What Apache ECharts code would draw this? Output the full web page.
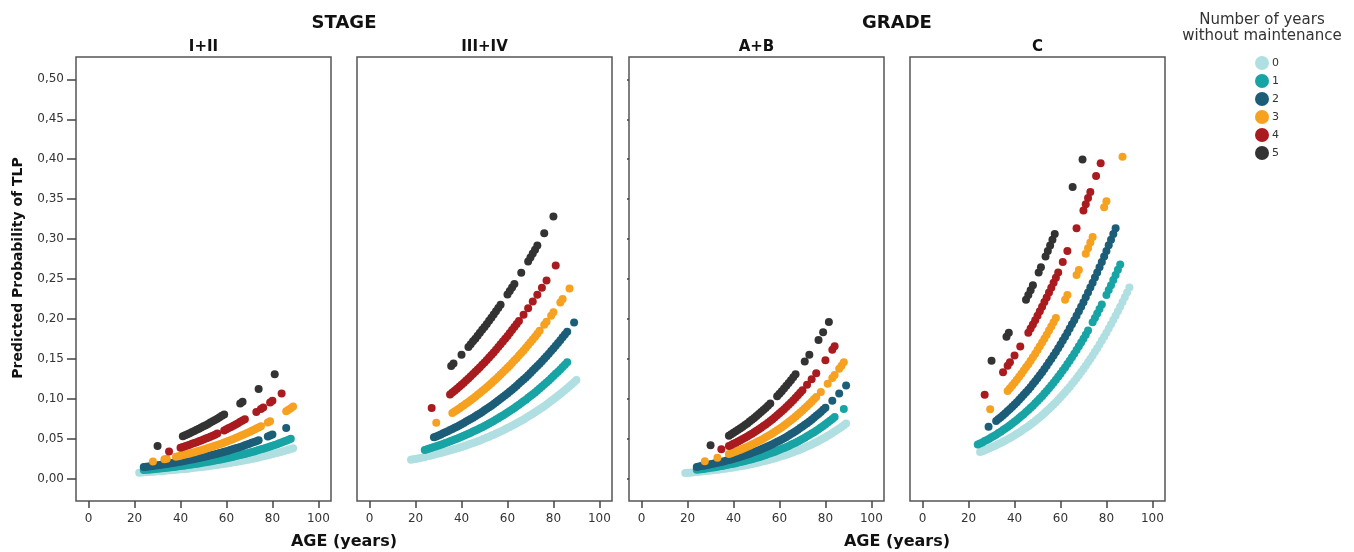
<!DOCTYPE html>
<html>
<head>
<meta charset="utf-8">
<title>Predicted Probability of TLP</title>
<script src="https://cdn.jsdelivr.net/npm/echarts@6/dist/echarts.min.js"></script>
<style>
  html, body { margin: 0; padding: 0; background: #fff; }
  #chart { width: 1354px; height: 552px; }
</style>
</head>
<body>
<div id="chart"></div>
<script>
// legend / series names (number of years without maintenance)
var yearNames = ['0', '1', '2', '3', '4', '5'];
var panelTitles = ['I+II', 'III+IV', 'A+B', 'C'];
var xTicks = [0, 20, 40, 60, 80, 100];
var yTicks = [0, 0.05, 0.1, 0.15, 0.2, 0.25, 0.3, 0.35, 0.4, 0.45, 0.5];

// STAGE I+II : [age, predicted probability]
var stage12_0 = [[22,0.0075],[23,0.0077],[24,0.0079],[25,0.0081],[26,0.0083],[27,0.0085],[28,0.0087],[29,0.0089],[30,0.0091],[31,0.0094],[32,0.0096],[33,0.0099],[34,0.0101],[35,0.0104],[36,0.0106],[37,0.0109],[38,0.0111],[39,0.0114],[40,0.0117],[41,0.0120],[42,0.0122],[43,0.0125],[44,0.0128],[45,0.0132],[46,0.0135],[47,0.0139],[48,0.0142],[49,0.0146],[50,0.0149],[51,0.0153],[52,0.0156],[53,0.0160],[54,0.0164],[55,0.0168],[56,0.0172],[57,0.0176],[58,0.0180],[59,0.0185],[60,0.0189],[61,0.0194],[62,0.0199],[63,0.0204],[64,0.0209],[65,0.0214],[66,0.0219],[67,0.0225],[68,0.0230],[69,0.0236],[70,0.0241],[71,0.0247],[72,0.0253],[73,0.0260],[74,0.0266],[75,0.0273],[76,0.0279],[77,0.0286],[78,0.0292],[79,0.0300],[80,0.0307],[81,0.0315],[82,0.0322],[83,0.0330],[84,0.0337],[85,0.0346],[86,0.0354],[87,0.0363],[88,0.0371],[89,0.0380]];
var stage12_1 = [[24,0.0107],[25,0.0110],[26,0.0112],[27,0.0115],[28,0.0118],[29,0.0121],[30,0.0124],[31,0.0127],[32,0.0130],[33,0.0133],[34,0.0136],[35,0.0140],[36,0.0143],[37,0.0147],[38,0.0150],[39,0.0154],[40,0.0158],[41,0.0162],[42,0.0166],[43,0.0170],[44,0.0174],[45,0.0178],[46,0.0182],[47,0.0187],[48,0.0191],[49,0.0196],[50,0.0201],[51,0.0206],[52,0.0211],[53,0.0216],[54,0.0221],[55,0.0227],[56,0.0232],[57,0.0238],[58,0.0244],[59,0.0250],[60,0.0256],[61,0.0262],[62,0.0268],[63,0.0275],[64,0.0282],[65,0.0289],[66,0.0296],[67,0.0303],[68,0.0310],[69,0.0318],[70,0.0325],[71,0.0333],[72,0.0341],[73,0.0350],[74,0.0358],[75,0.0367],[76,0.0375],[77,0.0384],[78,0.0393],[79,0.0403],[80,0.0412],[81,0.0422],[82,0.0432],[83,0.0443],[84,0.0453],[85,0.0464],[86,0.0475],[87,0.0487],[88,0.0498]];
var stage12_2 = [[24,0.0145],[25,0.0149],[26,0.0152],[27,0.0156],[28,0.0159],[29,0.0163],[30,0.0167],[31,0.0172],[32,0.0176],[33,0.0180],[34,0.0184],[35,0.0189],[36,0.0194],[37,0.0199],[38,0.0203],[39,0.0208],[40,0.0213],[41,0.0219],[42,0.0224],[43,0.0230],[44,0.0235],[45,0.0241],[46,0.0246],[47,0.0252],[48,0.0258],[49,0.0265],[50,0.0271],[51,0.0278],[52,0.0285],[53,0.0292],[54,0.0299],[55,0.0306],[56,0.0313],[57,0.0321],[58,0.0328],[59,0.0336],[60,0.0344],[61,0.0353],[62,0.0361],[63,0.0370],[64,0.0379],[65,0.0388],[66,0.0397],[67,0.0407],[68,0.0417],[69,0.0427],[70,0.0437],[71,0.0448],[72,0.0458],[73,0.0469],[74,0.0480],[78,0.0527],[79,0.0540],[80,0.0552],[86,0.0635]];
var stage12_3 = [[28,0.0215],[33,0.0243],[34,0.0249],[38,0.0274],[39,0.0281],[40,0.0288],[41,0.0295],[42,0.0302],[43,0.0309],[44,0.0316],[45,0.0324],[46,0.0332],[47,0.0340],[48,0.0348],[49,0.0357],[50,0.0365],[51,0.0374],[52,0.0383],[53,0.0393],[54,0.0402],[55,0.0412],[56,0.0421],[57,0.0431],[58,0.0441],[59,0.0452],[60,0.0463],[61,0.0474],[62,0.0485],[63,0.0497],[64,0.0508],[65,0.0521],[66,0.0533],[67,0.0546],[68,0.0558],[69,0.0572],[70,0.0585],[71,0.0599],[72,0.0612],[73,0.0627],[74,0.0641],[75,0.0656],[78,0.0703],[79,0.0720],[86,0.0844],[87,0.0863],[88,0.0883],[89,0.0903]];
var stage12_4 = [[35,0.0341],[40,0.0387],[41,0.0397],[42,0.0406],[43,0.0416],[44,0.0425],[45,0.0436],[46,0.0446],[47,0.0457],[48,0.0467],[49,0.0479],[50,0.0490],[51,0.0502],[52,0.0513],[53,0.0526],[54,0.0538],[55,0.0551],[56,0.0564],[59,0.0604],[60,0.0619],[61,0.0633],[62,0.0648],[63,0.0663],[64,0.0679],[65,0.0694],[66,0.0711],[67,0.0727],[68,0.0744],[73,0.0833],[75,0.0872],[76,0.0891],[79,0.0954],[80,0.0975],[84,0.1065]];
var stage12_5 = [[30,0.0410],[41,0.0531],[42,0.0544],[43,0.0557],[44,0.0569],[45,0.0583],[46,0.0597],[47,0.0611],[48,0.0625],[49,0.0640],[50,0.0655],[51,0.0670],[52,0.0685],[53,0.0702],[54,0.0718],[55,0.0735],[56,0.0751],[57,0.0769],[58,0.0786],[59,0.0804],[66,0.0942],[67,0.0963],[74,0.1124],[81,0.1308]];

// STAGE III+IV
var stage34_0 = [[18,0.0236],[19,0.0242],[20,0.0247],[21,0.0253],[22,0.0259],[23,0.0266],[24,0.0272],[25,0.0279],[26,0.0285],[27,0.0292],[28,0.0299],[29,0.0307],[30,0.0314],[31,0.0322],[32,0.0329],[33,0.0337],[34,0.0345],[35,0.0354],[36,0.0362],[37,0.0371],[38,0.0379],[39,0.0388],[40,0.0397],[41,0.0407],[42,0.0416],[43,0.0426],[44,0.0436],[45,0.0447],[46,0.0457],[47,0.0468],[48,0.0479],[49,0.0491],[50,0.0502],[51,0.0514],[52,0.0526],[53,0.0539],[54,0.0551],[55,0.0564],[56,0.0577],[57,0.0591],[58,0.0604],[59,0.0619],[60,0.0633],[61,0.0648],[62,0.0662],[63,0.0678],[64,0.0693],[65,0.0709],[66,0.0725],[67,0.0742],[68,0.0759],[69,0.0777],[70,0.0794],[71,0.0813],[72,0.0831],[73,0.0850],[74,0.0869],[75,0.0889],[76,0.0908],[77,0.0929],[78,0.0950],[79,0.0972],[80,0.0993],[81,0.1015],[82,0.1037],[83,0.1061],[84,0.1084],[85,0.1108],[86,0.1132],[87,0.1157],[88,0.1182],[89,0.1208],[90,0.1234]];
var stage34_1 = [[24,0.0360],[25,0.0369],[26,0.0378],[27,0.0387],[28,0.0396],[29,0.0406],[30,0.0415],[31,0.0425],[32,0.0435],[33,0.0446],[34,0.0456],[35,0.0467],[36,0.0477],[37,0.0489],[38,0.0500],[39,0.0512],[40,0.0524],[41,0.0537],[42,0.0549],[43,0.0562],[44,0.0575],[45,0.0589],[46,0.0602],[47,0.0616],[48,0.0630],[49,0.0645],[50,0.0660],[51,0.0676],[52,0.0691],[53,0.0707],[54,0.0723],[55,0.0740],[56,0.0756],[57,0.0774],[58,0.0791],[59,0.0810],[60,0.0828],[61,0.0847],[62,0.0866],[63,0.0886],[64,0.0905],[65,0.0926],[66,0.0946],[67,0.0968],[68,0.0989],[69,0.1012],[70,0.1034],[71,0.1057],[72,0.1080],[73,0.1104],[74,0.1128],[75,0.1153],[76,0.1178],[77,0.1204],[78,0.1230],[79,0.1257],[80,0.1284],[81,0.1312],[82,0.1339],[83,0.1368],[84,0.1397],[85,0.1427],[86,0.1457]];
var stage34_2 = [[28,0.0517],[29,0.0529],[30,0.0541],[31,0.0554],[32,0.0567],[33,0.0581],[34,0.0594],[35,0.0608],[36,0.0622],[37,0.0637],[38,0.0651],[39,0.0667],[40,0.0682],[41,0.0698],[42,0.0714],[43,0.0731],[44,0.0747],[45,0.0764],[46,0.0781],[47,0.0799],[48,0.0817],[49,0.0836],[50,0.0855],[51,0.0875],[52,0.0894],[53,0.0914],[54,0.0934],[55,0.0956],[56,0.0977],[57,0.0999],[58,0.1021],[59,0.1044],[60,0.1067],[61,0.1091],[62,0.1114],[63,0.1139],[64,0.1164],[65,0.1190],[66,0.1215],[67,0.1242],[68,0.1268],[69,0.1296],[70,0.1324],[71,0.1353],[72,0.1381],[73,0.1411],[74,0.1440],[75,0.1471],[76,0.1502],[77,0.1534],[78,0.1565],[79,0.1598],[80,0.1631],[81,0.1665],[82,0.1699],[83,0.1734],[84,0.1769],[85,0.1805],[86,0.1841],[89,0.1954]];
var stage34_3 = [[29,0.0701],[36,0.0822],[37,0.0841],[38,0.0859],[39,0.0879],[40,0.0899],[41,0.0920],[42,0.0940],[43,0.0961],[44,0.0982],[45,0.1004],[46,0.1026],[47,0.1049],[48,0.1072],[49,0.1096],[50,0.1120],[51,0.1145],[52,0.1170],[53,0.1196],[54,0.1222],[55,0.1249],[56,0.1275],[57,0.1303],[58,0.1331],[59,0.1360],[60,0.1388],[61,0.1418],[62,0.1448],[63,0.1479],[64,0.1509],[65,0.1541],[66,0.1573],[67,0.1606],[68,0.1639],[69,0.1674],[70,0.1708],[71,0.1743],[72,0.1778],[73,0.1815],[74,0.1851],[76,0.1926],[77,0.1964],[79,0.2041],[80,0.2083],[83,0.2206],[84,0.2249],[87,0.2380]];
var stage34_4 = [[27,0.0884],[35,0.1055],[36,0.1078],[37,0.1102],[38,0.1126],[39,0.1151],[40,0.1176],[41,0.1202],[42,0.1228],[43,0.1255],[44,0.1282],[45,0.1310],[46,0.1337],[47,0.1366],[48,0.1395],[49,0.1425],[50,0.1455],[51,0.1486],[52,0.1517],[53,0.1549],[54,0.1581],[55,0.1614],[56,0.1647],[57,0.1682],[58,0.1716],[59,0.1752],[60,0.1787],[61,0.1824],[62,0.1860],[63,0.1898],[64,0.1935],[65,0.1974],[67,0.2053],[69,0.2134],[71,0.2217],[73,0.2303],[75,0.2391],[77,0.2481],[81,0.2668]];
var stage34_5 = [[35.5,0.1412],[36.5,0.1442],[40,0.1551],[43,0.1650],[44,0.1684],[45,0.1719],[46,0.1753],[47,0.1790],[48,0.1826],[49,0.1863],[50,0.1900],[51,0.1938],[52,0.1976],[53,0.2016],[54,0.2055],[55,0.2096],[56,0.2136],[57,0.2177],[60,0.2306],[61,0.2350],[62,0.2394],[63,0.2438],[66,0.2577],[69,0.2719],[70,0.2768],[71,0.2818],[72,0.2867],[73,0.2918],[76,0.3072],[80,0.3284]];

// GRADE A+B
var gradeAB_0 = [[19,0.0071],[20,0.0073],[21,0.0075],[22,0.0078],[23,0.0080],[24,0.0083],[25,0.0086],[26,0.0089],[27,0.0092],[28,0.0095],[29,0.0098],[30,0.0102],[31,0.0105],[32,0.0108],[33,0.0112],[34,0.0116],[35,0.0120],[36,0.0124],[37,0.0128],[38,0.0132],[39,0.0136],[40,0.0141],[41,0.0146],[42,0.0151],[43,0.0156],[44,0.0161],[45,0.0166],[46,0.0172],[47,0.0178],[48,0.0184],[49,0.0190],[50,0.0196],[51,0.0203],[52,0.0210],[53,0.0217],[54,0.0224],[55,0.0231],[56,0.0239],[57,0.0247],[58,0.0255],[59,0.0264],[60,0.0273],[61,0.0282],[62,0.0291],[63,0.0300],[64,0.0310],[65,0.0320],[66,0.0331],[67,0.0342],[68,0.0353],[69,0.0365],[70,0.0377],[71,0.0389],[72,0.0402],[73,0.0415],[74,0.0429],[75,0.0443],[76,0.0457],[77,0.0472],[78,0.0487],[79,0.0503],[80,0.0519],[81,0.0536],[82,0.0553],[83,0.0571],[84,0.0589],[85,0.0608],[86,0.0628],[87,0.0648],[88,0.0668],[89,0.0689]];
var gradeAB_1 = [[24,0.0111],[25,0.0114],[26,0.0118],[27,0.0122],[28,0.0126],[29,0.0130],[30,0.0135],[31,0.0139],[32,0.0144],[33,0.0149],[34,0.0154],[35,0.0159],[36,0.0165],[37,0.0170],[38,0.0176],[39,0.0182],[40,0.0188],[41,0.0194],[42,0.0201],[43,0.0207],[44,0.0214],[45,0.0221],[46,0.0229],[47,0.0236],[48,0.0244],[49,0.0252],[50,0.0261],[51,0.0269],[52,0.0278],[53,0.0287],[54,0.0297],[55,0.0307],[56,0.0317],[57,0.0327],[58,0.0338],[59,0.0349],[60,0.0361],[61,0.0373],[62,0.0385],[63,0.0397],[64,0.0410],[65,0.0423],[66,0.0437],[67,0.0451],[68,0.0466],[69,0.0481],[70,0.0497],[71,0.0513],[72,0.0530],[73,0.0547],[74,0.0564],[75,0.0582],[76,0.0601],[77,0.0620],[78,0.0640],[79,0.0660],[80,0.0681],[81,0.0703],[82,0.0725],[83,0.0748],[84,0.0772],[88,0.0873]];
var gradeAB_2 = [[24,0.0147],[25,0.0152],[26,0.0157],[27,0.0162],[28,0.0168],[29,0.0174],[30,0.0180],[31,0.0186],[32,0.0192],[33,0.0198],[34,0.0205],[35,0.0212],[36,0.0219],[37,0.0226],[38,0.0233],[39,0.0241],[40,0.0249],[41,0.0257],[42,0.0266],[43,0.0275],[44,0.0284],[45,0.0293],[46,0.0303],[47,0.0313],[48,0.0323],[49,0.0334],[50,0.0345],[51,0.0356],[52,0.0368],[53,0.0380],[54,0.0392],[55,0.0405],[56,0.0418],[57,0.0432],[58,0.0446],[59,0.0461],[60,0.0476],[61,0.0491],[62,0.0507],[63,0.0523],[64,0.0540],[65,0.0558],[66,0.0576],[67,0.0594],[68,0.0613],[69,0.0633],[70,0.0653],[71,0.0674],[72,0.0695],[73,0.0717],[74,0.0739],[75,0.0763],[76,0.0787],[77,0.0811],[78,0.0836],[79,0.0862],[80,0.0889],[83,0.0974],[86,0.1066],[89,0.1166]];
var gradeAB_3 = [[27.5,0.0219],[33,0.0263],[38,0.0309],[39,0.0319],[40,0.0330],[41,0.0341],[42,0.0352],[43,0.0363],[44,0.0375],[45,0.0387],[46,0.0400],[47,0.0413],[48,0.0427],[49,0.0441],[50,0.0455],[51,0.0470],[52,0.0485],[53,0.0501],[54,0.0517],[55,0.0534],[56,0.0551],[57,0.0569],[58,0.0587],[59,0.0606],[60,0.0625],[61,0.0645],[62,0.0666],[63,0.0687],[64,0.0709],[65,0.0731],[66,0.0754],[67,0.0778],[68,0.0802],[69,0.0827],[70,0.0853],[71,0.0880],[72,0.0907],[73,0.0935],[74,0.0963],[75,0.0993],[76,0.1023],[78,0.1086],[81,0.1188],[83,0.1260],[84,0.1297],[86,0.1375],[87,0.1415],[88,0.1456]];
var gradeAB_4 = [[34.7,0.0367],[38,0.0409],[39,0.0422],[40,0.0436],[41,0.0450],[42,0.0465],[43,0.0480],[44,0.0495],[45,0.0511],[46,0.0528],[47,0.0545],[48,0.0562],[49,0.0580],[50,0.0599],[51,0.0618],[52,0.0638],[53,0.0658],[54,0.0679],[55,0.0700],[56,0.0722],[57,0.0745],[58,0.0768],[59,0.0793],[60,0.0818],[61,0.0843],[62,0.0869],[63,0.0896],[64,0.0924],[65,0.0953],[66,0.0982],[67,0.1012],[68,0.1043],[69,0.1075],[70,0.1107],[72,0.1175],[74,0.1246],[76,0.1321],[80,0.1482],[83,0.1613],[84,0.1659]];
var gradeAB_5 = [[30,0.0417],[38,0.0538],[39,0.0556],[40,0.0574],[41,0.0592],[42,0.0611],[43,0.0630],[44,0.0650],[45,0.0671],[46,0.0692],[47,0.0714],[48,0.0736],[49,0.0760],[50,0.0784],[51,0.0808],[52,0.0833],[53,0.0859],[54,0.0886],[55,0.0913],[56,0.0941],[59,0.1031],[60,0.1062],[61,0.1095],[62,0.1128],[63,0.1162],[64,0.1197],[65,0.1233],[66,0.1269],[67,0.1306],[71,0.1467],[73,0.1552],[77,0.1736],[79,0.1834],[81.5,0.1963]];

// GRADE C
var gradeC_0 = [[25,0.0333],[26,0.0344],[27,0.0356],[28,0.0367],[29,0.0380],[30,0.0392],[31,0.0406],[32,0.0419],[33,0.0433],[34,0.0447],[35,0.0462],[36,0.0477],[37,0.0493],[38,0.0509],[39,0.0526],[40,0.0543],[41,0.0561],[42,0.0579],[43,0.0598],[44,0.0617],[45,0.0637],[46,0.0657],[47,0.0679],[48,0.0700],[49,0.0723],[50,0.0746],[51,0.0770],[52,0.0794],[53,0.0820],[54,0.0846],[55,0.0873],[56,0.0900],[57,0.0928],[58,0.0957],[59,0.0987],[60,0.1018],[61,0.1050],[62,0.1082],[63,0.1115],[64,0.1149],[65,0.1184],[66,0.1220],[67,0.1257],[68,0.1295],[69,0.1334],[70,0.1373],[71,0.1414],[72,0.1456],[73,0.1499],[74,0.1543],[75,0.1588],[76,0.1634],[77,0.1681],[78,0.1729],[79,0.1778],[80,0.1828],[81,0.1880],[82,0.1932],[83,0.1986],[84,0.2040],[85,0.2096],[86,0.2153],[87,0.2211],[88,0.2270],[89,0.2331],[90,0.2392]];
var gradeC_1 = [[24,0.0426],[25,0.0440],[26,0.0454],[27,0.0470],[28,0.0485],[29,0.0501],[30,0.0517],[31,0.0534],[32,0.0551],[33,0.0570],[34,0.0588],[35,0.0608],[36,0.0627],[37,0.0648],[38,0.0668],[39,0.0690],[40,0.0712],[41,0.0735],[42,0.0758],[43,0.0783],[44,0.0807],[45,0.0833],[46,0.0859],[47,0.0887],[48,0.0914],[49,0.0943],[50,0.0972],[51,0.1002],[52,0.1033],[53,0.1065],[54,0.1098],[55,0.1132],[56,0.1166],[57,0.1202],[58,0.1238],[59,0.1276],[60,0.1314],[61,0.1353],[62,0.1393],[63,0.1435],[64,0.1477],[65,0.1521],[66,0.1565],[67,0.1611],[68,0.1657],[69,0.1705],[70,0.1753],[71,0.1803],[72,0.1854],[74,0.1958],[75,0.2013],[76,0.2068],[77,0.2125],[78,0.2182],[80,0.2300],[81,0.2361],[82,0.2423],[83,0.2486],[84,0.2550],[85,0.2615],[86,0.2681]];
var gradeC_2 = [[28.7,0.0651],[32,0.0723],[33,0.0747],[34,0.0770],[35,0.0795],[36,0.0820],[37,0.0846],[38,0.0872],[39,0.0900],[40,0.0928],[41,0.0958],[42,0.0987],[43,0.1018],[44,0.1049],[45,0.1082],[46,0.1114],[47,0.1149],[48,0.1184],[49,0.1221],[50,0.1257],[51,0.1295],[52,0.1333],[53,0.1374],[54,0.1414],[55,0.1457],[56,0.1499],[57,0.1543],[58,0.1587],[59,0.1634],[60,0.1680],[61,0.1729],[62,0.1777],[63,0.1828],[64,0.1879],[65,0.1932],[66,0.1985],[67,0.2040],[68,0.2096],[69,0.2153],[70,0.2210],[71,0.2270],[72,0.2330],[73,0.2392],[74,0.2454],[75,0.2518],[76,0.2582],[77,0.2648],[78,0.2714],[79,0.2783],[80,0.2851],[81,0.2922],[82,0.2992],[83,0.3064],[84,0.3136]];
var gradeC_3 = [[29.4,0.0869],[37,0.1098],[38,0.1132],[39,0.1167],[40,0.1201],[41,0.1238],[42,0.1275],[43,0.1314],[44,0.1353],[45,0.1394],[46,0.1434],[47,0.1477],[48,0.1520],[49,0.1565],[50,0.1610],[51,0.1657],[52,0.1704],[53,0.1753],[54,0.1802],[55,0.1854],[56,0.1905],[57,0.1959],[58,0.2012],[62,0.2240],[63,0.2299],[67,0.2549],[68,0.2614],[71,0.2816],[72,0.2886],[73,0.2956],[74,0.3027],[79,0.3397],[80,0.3474],[87,0.4032]];
var gradeC_4 = [[27,0.1049],[35,0.1333],[37,0.1414],[38,0.1456],[40,0.1542],[42.5,0.1655],[46,0.1827],[47,0.1879],[48,0.1931],[49,0.1985],[50,0.2039],[51,0.2096],[52,0.2152],[53,0.2211],[54,0.2269],[55,0.2330],[56,0.2391],[57,0.2454],[58,0.2517],[59,0.2581],[61,0.2714],[63,0.2850],[67,0.3135],[70,0.3359],[71,0.3436],[72,0.3513],[73,0.3591],[75.5,0.3789],[77.5,0.3950]];
var gradeC_5 = [[30,0.1476],[36.5,0.1777],[37.5,0.1827],[45,0.2239],[46,0.2299],[47,0.2360],[48,0.2422],[50.5,0.2581],[51.5,0.2647],[53.5,0.2781],[54.5,0.2850],[55.5,0.2919],[56.5,0.2990],[57.5,0.3062],[65.3,0.3653],[69.6,0.3998]];

var panels = [
  [stage12_0, stage12_1, stage12_2, stage12_3, stage12_4, stage12_5],
  [stage34_0, stage34_1, stage34_2, stage34_3, stage34_4, stage34_5],
  [gradeAB_0, gradeAB_1, gradeAB_2, gradeAB_3, gradeAB_4, gradeAB_5],
  [gradeC_0, gradeC_1, gradeC_2, gradeC_3, gradeC_4, gradeC_5]
];

var colors = ['#b0dfe2', '#18a4a4', '#1c5d78', '#f6a11f', '#a91b1f', '#333333'];
var font = 'DejaVu Sans';
var panelLeft = [76, 357, 629, 910];
var panelWidth = 255;

var grids = [], xAxes = [], yAxes = [], series = [], graphics = [];

for (var p = 0; p < 4; p++) {
  grids.push({
    left: panelLeft[p], top: 57, width: panelWidth, height: 444,
    show: true, borderColor: '#555', borderWidth: 1.5, backgroundColor: 'transparent'
  });
  xAxes.push({
    type: 'value', gridIndex: p, min: -5.5, max: 105.5, position: 'bottom',
    axisLine: { show: false, onZero: false },
    splitLine: { show: false },
    axisTick: { show: true, length: 7, customValues: xTicks, lineStyle: { color: '#444', width: 1.5 } },
    axisLabel: { customValues: xTicks, margin: 12, fontFamily: font, fontSize: 12, color: '#333' }
  });
  yAxes.push({
    type: 'value', gridIndex: p, min: -0.028, max: 0.528, position: 'left',
    axisLine: { show: false, onZero: false },
    splitLine: { show: false },
    axisTick: {
      show: p === 0 || p === 2, length: p === 0 ? 9 : 2, customValues: yTicks,
      lineStyle: { color: '#444', width: 1.5 }
    },
    axisLabel: {
      show: p === 0, customValues: yTicks, margin: 12,
      fontFamily: font, fontSize: 12, color: '#333',
      formatter: function (v) { return v.toFixed(2).replace('.', ','); }
    }
  });
  for (var s = 0; s < 6; s++) {
    series.push({
      type: 'scatter', name: yearNames[s],
      xAxisIndex: p, yAxisIndex: p,
      data: panels[p][s],
      symbol: 'circle', symbolSize: 8,
      itemStyle: { color: colors[s], opacity: 1 },
      emphasis: { disabled: true }
    });
  }
  graphics.push({
    type: 'text', x: panelLeft[p] + panelWidth / 2, y: 47,
    style: { text: panelTitles[p], font: 'bold 15px "DejaVu Sans"', fill: '#111', textAlign: 'center', textVerticalAlign: 'middle' }
  });
}

// group titles, axis titles, legend title
graphics.push(
  { type: 'text', x: 344, y: 23, style: { text: 'STAGE', font: 'bold 18px "DejaVu Sans"', fill: '#111', textAlign: 'center', textVerticalAlign: 'middle' } },
  { type: 'text', x: 897, y: 23, style: { text: 'GRADE', font: 'bold 18px "DejaVu Sans"', fill: '#111', textAlign: 'center', textVerticalAlign: 'middle' } },
  { type: 'text', x: 344, y: 542, style: { text: 'AGE (years)', font: 'bold 16px "DejaVu Sans"', fill: '#111', textAlign: 'center', textVerticalAlign: 'middle' } },
  { type: 'text', x: 897, y: 542, style: { text: 'AGE (years)', font: 'bold 16px "DejaVu Sans"', fill: '#111', textAlign: 'center', textVerticalAlign: 'middle' } },
  { type: 'text', x: 18, y: 268, rotation: Math.PI / 2,
    style: { text: 'Predicted Probability of TLP', font: 'bold 14px "DejaVu Sans"', fill: '#111', textAlign: 'center', textVerticalAlign: 'middle' } },
  { type: 'text', x: 1262, y: 20, style: { text: 'Number of years', font: '15px "DejaVu Sans"', fill: '#333', textAlign: 'center', textVerticalAlign: 'middle' } },
  { type: 'text', x: 1262, y: 36, style: { text: 'without maintenance', font: '15px "DejaVu Sans"', fill: '#333', textAlign: 'center', textVerticalAlign: 'middle' } }
);

var option = {
  animation: false,
  backgroundColor: '#fff',
  grid: grids,
  xAxis: xAxes,
  yAxis: yAxes,
  legend: {
    data: yearNames,
    orient: 'vertical',
    left: 1250, top: 51,
    icon: 'circle',
    itemWidth: 14, itemHeight: 14, itemGap: 4,
    textStyle: { fontFamily: font, fontSize: 11, color: '#333', padding: [0, 0, 0, -2] }
  },
  graphic: graphics,
  series: series
};

var chart = echarts.init(document.getElementById('chart'));
chart.setOption(option);
</script>
</body>
</html>
